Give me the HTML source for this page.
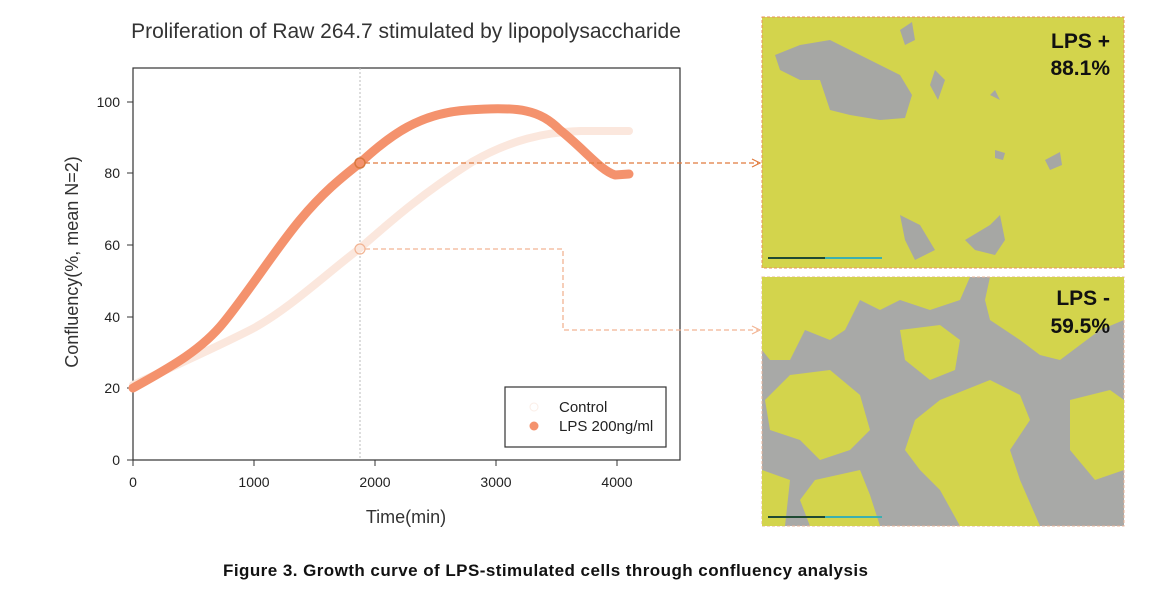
<!DOCTYPE html>
<html><head><meta charset="utf-8"><style>
body{margin:0;background:#fff;width:1161px;height:606px;overflow:hidden;font-family:"Liberation Sans",sans-serif}
</style></head><body>
<svg width="1161" height="606" xmlns="http://www.w3.org/2000/svg" font-family="Liberation Sans, sans-serif">
<text x="406" y="38" font-size="21" text-anchor="middle" fill="#333">Proliferation of Raw 264.7 stimulated by lipopolysaccharide</text>
<rect x="133" y="68" width="547" height="392" fill="none" stroke="#333" stroke-width="1.2"/>
<line x1="360" y1="68" x2="360" y2="460" stroke="#bbb" stroke-dasharray="2,2"/>
<g font-size="14" fill="#222" text-anchor="end">
<text x="120" y="465">0</text><text x="120" y="393">20</text><text x="120" y="322">40</text><text x="120" y="250">60</text><text x="120" y="178">80</text><text x="120" y="107">100</text>
</g>
<g stroke="#333"><line x1="127" y1="460" x2="133" y2="460"/><line x1="127" y1="388" x2="133" y2="388"/><line x1="127" y1="317" x2="133" y2="317"/><line x1="127" y1="245" x2="133" y2="245"/><line x1="127" y1="173" x2="133" y2="173"/><line x1="127" y1="102" x2="133" y2="102"/>
<line x1="133" y1="460" x2="133" y2="466"/><line x1="254" y1="460" x2="254" y2="466"/><line x1="375" y1="460" x2="375" y2="466"/><line x1="496" y1="460" x2="496" y2="466"/><line x1="617" y1="460" x2="617" y2="466"/></g>
<g font-size="14" fill="#222" text-anchor="middle">
<text x="133" y="487">0</text><text x="254" y="487">1000</text><text x="375" y="487">2000</text><text x="496" y="487">3000</text><text x="617" y="487">4000</text>
</g>
<text x="406" y="523" font-size="18" text-anchor="middle" fill="#333">Time(min)</text>
<text transform="translate(78,262) rotate(-90)" font-size="18" text-anchor="middle" fill="#333">Confluency(%, mean N=2)</text>
<path fill="none" stroke="#fbe7dd" stroke-width="8" stroke-linecap="round" stroke-linejoin="round" d="M133 385 C170 368 215 348 254 328 C290 308 325 275 359 249 C390 222 420 195 472 162 C510 140 545 132 581 131 L629 131"/>
<path fill="none" stroke="#f4926d" stroke-width="9" stroke-linecap="round" stroke-linejoin="round" d="M133 388 C165 370 200 352 224 322 C250 290 275 250 300 220 C325 190 345 175 360 163 C390 135 420 113 468 110 C520 106 540 110 560 130 C585 150 600 170 615 175 L629 174"/>
<circle cx="360" cy="163" r="5" fill="none" stroke="#d9783f" stroke-width="1.5"/>
<circle cx="360" cy="249" r="5" fill="none" stroke="#f2b493" stroke-width="1.2"/>
<path d="M365 163 H758" stroke="#e07a3e" stroke-width="1.3" stroke-dasharray="5,3" fill="none"/>
<path d="M752 159 L760 163 L752 167" stroke="#e07a3e" fill="none" stroke-width="1.2"/>
<path d="M365 249 H563 V330 H758" stroke="#f2b493" stroke-width="1.3" stroke-dasharray="5,3" fill="none"/>
<path d="M752 326 L760 330 L752 334" stroke="#f2b493" fill="none" stroke-width="1.2"/>
<rect x="505" y="387" width="161" height="60" fill="#fff" stroke="#333" stroke-width="1.2"/>
<circle cx="534" cy="407" r="4" fill="none" stroke="#fbeee7"/>
<circle cx="534" cy="426" r="4.5" fill="#f4926d"/>
<text x="559" y="412" font-size="15" fill="#222">Control</text>
<text x="559" y="431" font-size="15" fill="#222">LPS 200ng/ml</text>
<rect x="762" y="17" width="362" height="251" fill="#d3d44c" stroke="#e8925a" stroke-dasharray="3,2"/>
<path d="M775 55 L800 45 L830 40 L860 55 L900 75 L912 95 L905 118 L880 120 L850 115 L830 110 L820 80 L800 80 L780 70 Z" fill="#a6a7a4"/>
<path d="M900 30 L912 22 L915 40 L905 45 Z M935 70 L945 80 L938 100 L930 85 Z M995 90 L1000 100 L990 95 Z M990 225 L1000 215 L1005 240 L995 255 L975 250 L965 240 Z M900 215 L920 225 L935 250 L915 260 L905 240 Z M1045 160 L1060 152 L1062 165 L1050 170 Z M995 150 L1005 153 L1003 160 L995 158 Z" fill="#a6a7a4"/>
<line x1="768" y1="258" x2="825" y2="258" stroke="#1f4a33" stroke-width="2"/><line x1="825" y1="258" x2="882" y2="258" stroke="#3cb0b0" stroke-width="2"/>
<text x="1110" y="48" font-size="21" font-weight="bold" text-anchor="end" fill="#111">LPS +</text>
<text x="1110" y="75" font-size="21" font-weight="bold" text-anchor="end" fill="#111">88.1%</text>
<rect x="762" y="277" width="362" height="249" fill="#a8a9a7" stroke="#e8b49a" stroke-dasharray="3,2"/>
<path d="M762 277 H970 L960 300 L930 310 L900 300 L880 310 L860 300 L845 330 L830 340 L805 330 L790 360 L770 360 L762 350 Z" fill="#d3d44c"/>
<path d="M990 277 H1124 V320 L1100 330 L1080 345 L1060 360 L1040 355 L1020 340 L990 320 L985 300 Z" fill="#d3d44c"/>
<path d="M900 330 L940 325 L960 340 L955 370 L930 380 L905 360 Z" fill="#d3d44c"/>
<path d="M790 375 L830 370 L860 395 L870 430 L850 450 L820 460 L800 440 L770 430 L765 400 Z" fill="#d3d44c"/>
<path d="M940 400 L990 380 L1020 395 L1030 420 L1010 450 L1020 480 L1040 526 H960 L940 490 L920 470 L905 450 L915 420 Z" fill="#d3d44c"/>
<path d="M815 480 L860 470 L870 495 L880 526 H810 L800 500 Z" fill="#d3d44c"/>
<path d="M762 470 L790 480 L785 526 H762 Z" fill="#d3d44c"/>
<path d="M1070 400 L1110 390 L1124 400 V470 L1095 480 L1070 450 Z" fill="#d3d44c"/>
<line x1="768" y1="517" x2="825" y2="517" stroke="#1f4a33" stroke-width="2"/><line x1="825" y1="517" x2="882" y2="517" stroke="#3cb0b0" stroke-width="2"/>
<text x="1110" y="305" font-size="21" font-weight="bold" text-anchor="end" fill="#111">LPS -</text>
<text x="1110" y="333" font-size="21" font-weight="bold" text-anchor="end" fill="#111">59.5%</text>
<text x="223" y="576" font-size="17" font-weight="bold" fill="#111" textLength="645">Figure 3. Growth curve of LPS-stimulated cells through confluency analysis</text>
</svg>
</body></html>
